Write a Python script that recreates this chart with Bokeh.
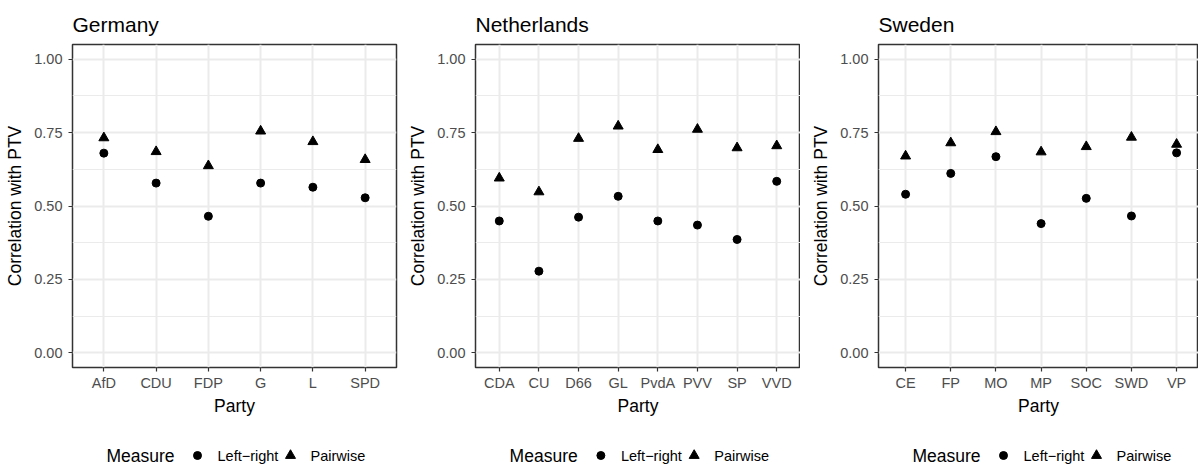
from bokeh.plotting import figure
from bokeh.layouts import row, column
from bokeh.models import FixedTicker, Range1d, ColumnDataSource, NumeralTickFormatter
from bokeh.core.properties import value
from bokeh.embed import file_html
from bokeh.resources import INLINE

# ---------------- data ----------------
de_parties = ["AfD", "CDU", "FDP", "G", "L", "SPD"]
de_left_right = [0.680, 0.578, 0.465, 0.578, 0.564, 0.528]
de_pairwise = [0.732, 0.685, 0.637, 0.755, 0.719, 0.658]

nl_parties = ["CDA", "CU", "D66", "GL", "PvdA", "PVV", "SP", "VVD"]
nl_left_right = [0.449, 0.278, 0.462, 0.533, 0.449, 0.435, 0.386, 0.584]
nl_pairwise = [0.595, 0.548, 0.730, 0.772, 0.692, 0.761, 0.698, 0.705]

se_parties = ["CE", "FP", "MO", "MP", "SOC", "SWD", "VP"]
se_left_right = [0.540, 0.611, 0.668, 0.440, 0.526, 0.466, 0.681]
se_pairwise = [0.670, 0.715, 0.753, 0.684, 0.702, 0.734, 0.710]

y_ticks = [0.0, 0.25, 0.5, 0.75, 1.0]
y_tick_labels = ["0.00", "0.25", "0.50", "0.75", "1.00"]
y_minor = [0.125, 0.375, 0.625, 0.875]
legend_title = "Measure"
measure_labels = ["Left\u2212right", "Pairwise"]
measure_markers = ["circle", "triangle"]
marker_sizes = [8, 10]

FONT = "Liberation Sans"
TOP_H = 435
LEG_H = 30


def make_panel(title, parties, lr, pw, width, left, right, x_end=None):
    n = len(parties)
    pos = list(range(1, n + 1))
    xr = Range1d(0.4, x_end if x_end is not None else n + 0.6)
    p = figure(width=width, height=TOP_H, x_range=xr, y_range=Range1d(-0.05, 1.05),
               output_backend="svg", toolbar_location=None,
               min_border_left=left, min_border_right=right,
               min_border_top=44, min_border_bottom=TOP_H - 367, title=title)
    p.background_fill_color = "white"
    p.border_fill_color = "white"
    p.title.text_font = FONT
    p.title.text_font_size = "21px"
    p.title.text_font_style = "normal"
    p.title.text_color = "black"
    p.title.align = "left"
    p.title.standoff = 18

    p.xaxis.ticker = FixedTicker(ticks=pos)
    p.xaxis.major_label_overrides = {i: name for i, name in zip(pos, parties)}
    p.yaxis.ticker = FixedTicker(ticks=y_ticks, minor_ticks=y_minor)
    p.yaxis.formatter = NumeralTickFormatter(format="0.00")
    p.yaxis.major_label_overrides = {t: l for t, l in zip(y_ticks, y_tick_labels)}
    p.xaxis.axis_label = "Party"
    p.yaxis.axis_label = "Correlation with PTV"
    for ax in (p.xaxis[0], p.yaxis[0]):
        ax.axis_line_color = None
        ax.major_tick_line_color = "#333333"
        ax.major_tick_line_width = 1.2
        ax.major_tick_out = 4
        ax.major_tick_in = 0
        ax.minor_tick_line_color = None
        ax.major_label_text_font = FONT
        ax.major_label_text_font_size = "14.5px"
        ax.major_label_text_color = "#4D4D4D"
        ax.axis_label_text_font = FONT
        ax.axis_label_text_font_size = "17.5px"
        ax.axis_label_text_font_style = "normal"
        ax.axis_label_text_color = "black"
    p.yaxis.major_label_standoff = 6
    p.xaxis.major_label_standoff = 3
    p.xaxis.axis_label_standoff = 2
    p.yaxis.axis_label_standoff = 6

    p.xgrid.grid_line_color = "#EBEBEB"
    p.xgrid.grid_line_width = 2
    p.ygrid.grid_line_color = "#EBEBEB"
    p.ygrid.grid_line_width = 2
    p.ygrid.minor_grid_line_color = "#EBEBEB"
    p.ygrid.minor_grid_line_width = 1

    p.outline_line_color = "#333333"
    p.outline_line_width = 1.5

    src = ColumnDataSource(dict(x=pos, party=parties, lr=lr, pw=pw))
    p.scatter("x", "lr", source=src, marker=measure_markers[0], size=marker_sizes[0],
              fill_color="black", line_color="black")
    p.scatter("x", "pw", source=src, marker=measure_markers[1], size=marker_sizes[1],
              fill_color="black", line_color="black")
    return p


def make_legend(width, left, right, half_right=162):
    # a strip below the panel; x is measured in pixels from the panel's centre
    lg = figure(width=width, height=LEG_H, x_range=Range1d(-162, half_right),
                y_range=Range1d(-10, 20), x_axis_type=None, y_axis_type=None,
                output_backend="svg", toolbar_location=None,
                min_border_left=left, min_border_right=right,
                min_border_top=0, min_border_bottom=0)
    lg.outline_line_color = None
    lg.background_fill_color = "white"
    lg.border_fill_color = "white"
    lg.grid.visible = False
    lg.text(x=[-128], y=[0], text=[legend_title], text_font=value(FONT),
            text_font_size="17.5px", text_baseline="middle", text_align="left",
            text_color="black")
    lg.scatter(x=[-37, 56], y=[0, 0], marker=measure_markers, size=marker_sizes,
               fill_color="black", line_color="black")
    lg.text(x=[-17, 76], y=[0, 0], text=measure_labels, text_font=value(FONT),
            text_font_size="14.5px", text_baseline="middle", text_align="left",
            text_color="black")
    return lg


p1 = make_panel("Germany", de_parties, de_left_right, de_pairwise,
                width=400, left=72, right=4)
p2 = make_panel("Netherlands", nl_parties, nl_left_right, nl_pairwise,
                width=400, left=75, right=0)
p3 = make_panel("Sweden", se_parties, se_left_right, se_pairwise,
                width=398, left=78, right=0, x_end=7.485)

l1 = make_legend(400, 72, 4)
l2 = make_legend(400, 75, 0)
l3 = make_legend(398, 78, 0, half_right=158)

layout = column(row(p1, p2, p3), row(l1, l2, l3))
open("out.html", "w").write(file_html(layout, INLINE))
